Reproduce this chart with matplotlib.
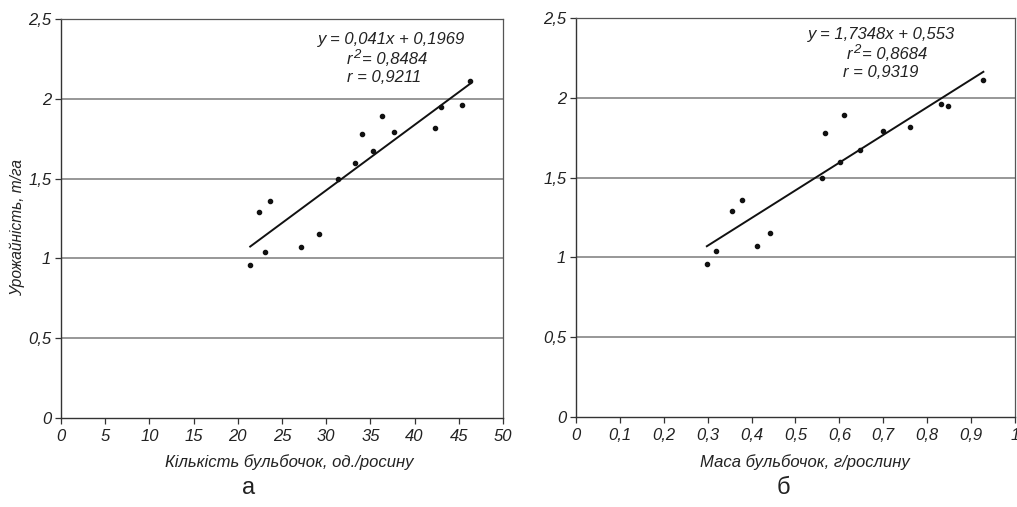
import matplotlib
matplotlib.use("Agg")
import matplotlib.pyplot as plt
import numpy as np

plt.rcParams['font.family'] = ['Liberation Sans', 'DejaVu Sans']

# Panel a: number of nodules vs yield
count_x = [21.4, 22.4, 23.1, 23.6, 27.1, 29.2, 31.3, 33.2, 34.1, 35.3, 36.3, 37.7, 42.3, 43.0, 45.4, 46.3]
count_y = [0.96, 1.29, 1.04, 1.36, 1.07, 1.15, 1.50, 1.60, 1.78, 1.67, 1.89, 1.79, 1.82, 1.95, 1.96, 2.11]
count_slope, count_icpt = 0.041, 0.1969

# Panel б: nodule mass vs yield
mass_x = [0.298, 0.320, 0.356, 0.377, 0.413, 0.442, 0.561, 0.568, 0.602, 0.611, 0.646, 0.699, 0.762, 0.832, 0.847, 0.928]
mass_y = [0.96, 1.04, 1.29, 1.36, 1.07, 1.15, 1.50, 1.78, 1.60, 1.89, 1.67, 1.79, 1.82, 1.96, 1.95, 2.11]
mass_slope, mass_icpt = 1.7348, 0.553

y_ticks = [0, 0.5, 1, 1.5, 2, 2.5]
y_labels = ['0', '0,5', '1', '1,5', '2', '2,5']
count_ticks = [0, 5, 10, 15, 20, 25, 30, 35, 40, 45, 50]
count_labels = ['0', '5', '10', '15', '20', '25', '30', '35', '40', '45', '50']
mass_ticks = [0, 0.1, 0.2, 0.3, 0.4, 0.5, 0.6, 0.7, 0.8, 0.9, 1]
mass_labels = ['0', '0,1', '0,2', '0,3', '0,4', '0,5', '0,6', '0,7', '0,8', '0,9', '1']

W, H = 1017, 507
fig = plt.figure(figsize=(W / 100, H / 100), dpi=100)
axL = fig.add_axes([0.060, 0.1755, 0.4346, 0.787])
axR = fig.add_axes([0.5664, 0.1775, 0.4316, 0.787])

fs = 12
grid_c = '#7a7a7a'
text_c = '#222222'

def style(ax, xt, xl, xmax):
    ax.set_xlim(0, xmax)
    ax.set_ylim(0, 2.5)
    ax.set_xticks(xt)
    ax.set_xticklabels(xl, fontstyle='italic', fontsize=fs, color=text_c)
    ax.set_yticks(y_ticks)
    ax.set_yticklabels(y_labels, fontstyle='italic', fontsize=fs, color=text_c)
    for yv in [0.5, 1, 1.5, 2]:
        ax.axhline(yv, color=grid_c, lw=1.1, zorder=1)
    for s in ['top', 'right']:
        ax.spines[s].set_color('#555555')
        ax.spines[s].set_linewidth(0.9)
    for s in ['left', 'bottom']:
        ax.spines[s].set_color('#333333')
        ax.spines[s].set_linewidth(1.0)
    ax.tick_params(axis='x', direction='out', length=4, width=0.9, color='#333333', pad=4)
    ax.tick_params(axis='y', direction='out', length=4, width=0.9, color='#333333', pad=3)

style(axL, count_ticks, count_labels, 50)
style(axR, mass_ticks, mass_labels, 1)

axL.scatter(count_x, count_y, s=9, color='#111111', zorder=3)
xl = np.array([min(count_x), max(count_x)])
axL.plot(xl, count_slope * xl + count_icpt, color='#111111', lw=1.4, zorder=2)

axR.scatter(mass_x, mass_y, s=9, color='#111111', zorder=3)
xr = np.array([min(mass_x), max(mass_x)])
axR.plot(xr, mass_slope * xr + mass_icpt, color='#111111', lw=1.4, zorder=2)

renderer = fig.canvas.get_renderer()
tk = dict(fontstyle='italic', fontsize=fs, color=text_c, va='baseline')

def px(x, y):
    return x / W, 1 - y / H

def r2_line(x, yb, value):
    t1 = fig.text(*px(x, yb), 'r', **tk)
    bb = t1.get_window_extent(renderer)
    t2 = fig.text((bb.x1 + 0.5) / W, (H - yb + 6) / H, '2', fontstyle='italic',
                  fontsize=9.5, color=text_c, va='baseline')
    bb2 = t2.get_window_extent(renderer)
    fig.text((bb2.x1 + 1.5) / W, 1 - yb / H, '= ' + value, **tk)

fig.text(*px(318, 44), 'y = 0,041x + 0,1969', **tk)
r2_line(347, 64, '0,8484')
fig.text(*px(347, 82), 'r = 0,9211', **tk)

fig.text(*px(808, 39), 'y = 1,7348x + 0,553', **tk)
r2_line(847, 59, '0,8684')
fig.text(*px(843, 77), 'r = 0,9319', **tk)

fig.text(*px(289, 462), 'Кількість бульбочок, од./росину', ha='center', va='center',
         fontstyle='italic', fontsize=fs, color=text_c)
fig.text(*px(17, 227), 'Урожайність, т/га', ha='center', va='center', rotation=90,
         fontstyle='italic', fontsize=11.2, color=text_c)
fig.text(*px(805, 462), 'Маса бульбочок, г/рослину', ha='center', va='center',
         fontstyle='italic', fontsize=fs, color=text_c)

fig.text(*px(249, 488), 'а', ha='center', va='center', fontsize=17, color=text_c)
fig.text(*px(783, 488), 'б', ha='center', va='center', fontsize=17, color=text_c)

fig.savefig('out.png', dpi=100)
